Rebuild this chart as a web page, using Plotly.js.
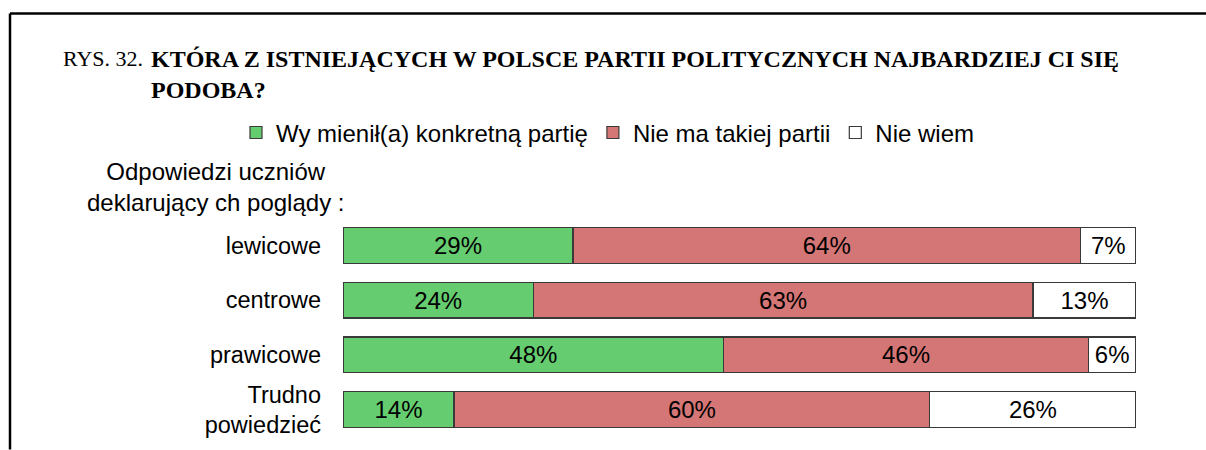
<!DOCTYPE html>
<html>
<head>
<meta charset="utf-8">
<script src="https://cdn.plot.ly/plotly-3.0.1.min.js"></script>
<style>html,body{margin:0;padding:0;background:#fff;}#chart{width:1206px;height:450px;}</style>
</head>
<body>
<div id="chart"></div>
<script>
const categories = ['lewicowe', 'centrowe', 'prawicowe', 'Trudno<br>powiedzieć'];
const seriesNames = ['Wy mienił(a) konkretną partię', 'Nie ma takiej partii', 'Nie wiem'];
const mentioned = [29, 24, 48, 14];
const noParty = [64, 63, 46, 60];
const dontKnow = [7, 13, 6, 26];
const seriesColors = ['#66CC70', '#D57676', '#FFFFFF'];

const SANS = 'Liberation Sans, Arial, sans-serif';
const SERIF = 'Liberation Serif, Times New Roman, serif';
const FS = 23.5;

const values = [mentioned, noParty, dontKnow];
const traces = values.map((v, i) => ({
  type: 'bar',
  orientation: 'h',
  name: seriesNames[i],
  y: categories,
  x: v,
  marker: {color: seriesColors[i], line: {color: '#3a3a3a', width: 1.2}},
  texttemplate: '%{x}%',
  textposition: 'inside',
  insidetextanchor: 'middle',
  constraintext: 'none',
  textfont: {family: SANS, size: 24, color: '#000'},
  hoverinfo: 'skip'
}));

// pixel helpers for decorative placement (paper coords)
const L = 343, R = 70, T = 217.5, B = 12.5, W = 1206, H = 450;
const pw = W - L - R, ph = H - T - B;
const px = x => (x - L) / pw;
const py = y => (H - B - y) / ph;

const layout = {
  width: W, height: H,
  margin: {l: L, r: R, t: T, b: B, pad: 0},
  paper_bgcolor: '#fff', plot_bgcolor: '#fff',
  barmode: 'stack',
  bargap: 0.345,
  showlegend: true,
  legend: {
    orientation: 'h',
    x: px(236), xanchor: 'left',
    y: py(132), yanchor: 'middle',
    font: {family: SANS, size: 24, color: '#000'},
    traceorder: 'normal',
    itemclick: false, itemdoubleclick: false,
    bgcolor: 'rgba(0,0,0,0)'
  },
  xaxis: {range: [0, 100], visible: false, fixedrange: true},
  yaxis: {
    autorange: 'reversed',
    showgrid: false, zeroline: false, showline: false,
    ticks: '', ticklabelstandoff: 21,
    tickfont: {family: SANS, size: FS, color: '#000'},
    fixedrange: true
  },
  annotations: [
    {xref: 'paper', yref: 'paper', x: px(61), y: py(57), xanchor: 'left', yanchor: 'middle',
     text: 'RYS. 32.', showarrow: false, font: {family: SERIF, size: 22, color: '#000'}},
    {xref: 'paper', yref: 'paper', x: px(149), y: py(73), xanchor: 'left', yanchor: 'middle', align: 'left',
     text: '<b>KTÓRA Z ISTNIEJĄCYCH W POLSCE PARTII POLITYCZNYCH NAJBARDZIEJ CI SIĘ<br>PODOBA?</b>',
     showarrow: false, font: {family: SERIF, size: 24, color: '#000'}},
    {xref: 'paper', yref: 'paper', x: px(215), y: py(186), xanchor: 'center', yanchor: 'middle', align: 'center',
     text: 'Odpowiedzi uczniów<br>deklarujący ch poglądy :',
     showarrow: false, font: {family: SANS, size: 24, color: '#000'}}
  ],
  shapes: [
    {type: 'line', xref: 'paper', yref: 'paper', x0: px(10), x1: px(1206), y0: py(12), y1: py(12), line: {color: '#000', width: 2.5}},
    {type: 'line', xref: 'paper', yref: 'paper', x0: px(10), x1: px(10), y0: py(12), y1: py(450), line: {color: '#000', width: 2.5}}
  ]
};

Plotly.newPlot('chart', traces, layout, {displayModeBar: false, staticPlot: true});
</script>
</body>
</html>
